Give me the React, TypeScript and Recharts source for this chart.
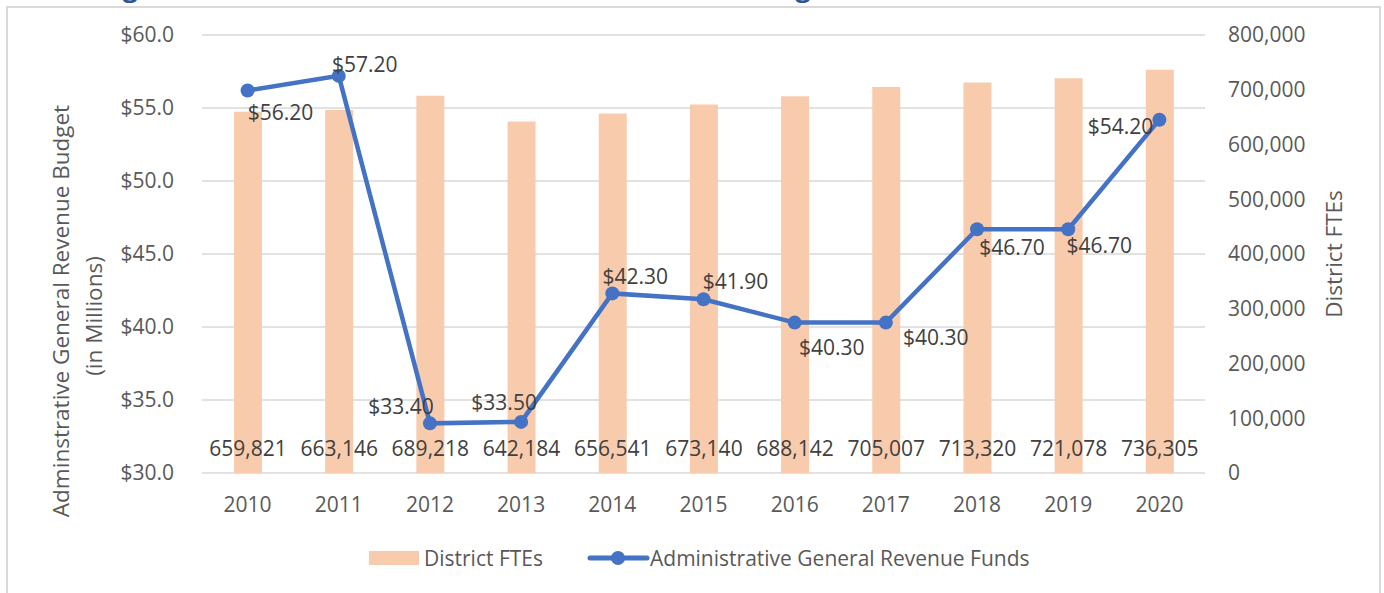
import React from 'react';
import { ComposedChart, Bar, Line, XAxis, YAxis, CartesianGrid, Legend, LabelList } from 'recharts';

const years = ['2010', '2011', '2012', '2013', '2014', '2015', '2016', '2017', '2018', '2019', '2020'];
const districtFTEs = [659821, 663146, 689218, 642184, 656541, 673140, 688142, 705007, 713320, 721078, 736305];
const adminFunds = [56.2, 57.2, 33.4, 33.5, 42.3, 41.9, 40.3, 40.3, 46.7, 46.7, 54.2];
const leftTicks = [30, 35, 40, 45, 50, 55, 60];
const rightTicks = [0, 100000, 200000, 300000, 400000, 500000, 600000, 700000, 800000];

const TITLE = 'Figure 1: General Revenue Funds Administrative Budget and District FTEs, Fiscal Years 2010-2020';
const BAR_NAME = 'District FTEs';
const LINE_NAME = 'Administrative General Revenue Funds';

// label placement offsets (dx, dy) relative to each line point
const LINE_LABEL_OFFSETS: [number, number][] = [
  [33, 22], [26, -12], [-29, -17], [-17, -20], [23, -17], [32, -18],
  [37, 24], [50, 14], [35, 18], [31, 16], [-39, 6],
];

const data = years.map((y, i) => ({ year: y, fte: districtFTEs[i], funds: adminFunds[i] }));

const FONT = '"Open Sans", sans-serif';
const TICK_COLOR = '#595959';
const LABEL_COLOR = '#404040';
const BAR_COLOR = '#F8CBAD';
const LINE_COLOR = '#4472C4';

const BarValueLabel = (props: any) => {
  const { x, y, width, height, value } = props;
  return (
    <text x={x + width / 2} y={y + height - 25} textAnchor="middle" dominantBaseline="central"
      fontSize={21} fontFamily={FONT} fill={LABEL_COLOR}>
      {Number(value).toLocaleString('en-US')}
    </text>
  );
};

const LineValueLabel = (props: any) => {
  const { x, y, value, index } = props;
  const off = LINE_LABEL_OFFSETS[index] || [0, -15];
  return (
    <text x={x + off[0]} y={y + off[1]} textAnchor="middle" dominantBaseline="central"
      fontSize={21} fontFamily={FONT} fill={LABEL_COLOR}>
      {`$${Number(value).toFixed(2)}`}
    </text>
  );
};

const LeftAxisLabel = () => (
  <g>
    <text x={60} y={311} transform="rotate(-90 60 311)" textAnchor="middle" dominantBaseline="central"
      fontSize={22.5} fontFamily={FONT} fill={TICK_COLOR}>Adminstrative General Revenue Budget</text>
    <text x={93} y={316} transform="rotate(-90 93 316)" textAnchor="middle" dominantBaseline="central"
      fontSize={22.5} fontFamily={FONT} fill={TICK_COLOR}>(in Millions)</text>
  </g>
);

const RightAxisLabel = () => (
  <text x={1333} y={254} transform="rotate(-90 1333 254)" textAnchor="middle" dominantBaseline="central"
    fontSize={22.5} fontFamily={FONT} fill={TICK_COLOR}>District FTEs</text>
);

const LegendContent = () => (
  <svg width={1384} height={30} style={{ display: 'block' }}>
    <rect x={369} y={8} width={50} height={14} fill={BAR_COLOR} />
    <text x={424} y={15} dominantBaseline="central" fontSize={21} fontFamily={FONT} fill={TICK_COLOR}>{BAR_NAME}</text>
    <line x1={590} y1={15} x2={647} y2={15} stroke={LINE_COLOR} strokeWidth={5} strokeLinecap="round" />
    <circle cx={618} cy={15} r={7} fill={LINE_COLOR} />
    <text x={650} y={15} dominantBaseline="central" fontSize={21} fontFamily={FONT} fill={TICK_COLOR}>{LINE_NAME}</text>
  </svg>
);

export default function App() {
  return (
    <div style={{ position: 'absolute', left: 0, top: 0, width: 1384, height: 593, overflow: 'hidden', background: '#fff', fontFamily: FONT }}>
      <svg width={1384} height={12} style={{ position: 'absolute', left: 0, top: 0 }}>
        <text x={100} y={-3} fontSize={26} fontWeight="bold" fontFamily={FONT} fill="#2F5597"
          textLength={1270} lengthAdjust="spacingAndGlyphs">{TITLE}</text>
      </svg>
      <div style={{ position: 'absolute', left: 6, top: 6, width: 1375, height: 620, border: '2px solid #d9d9d9', boxSizing: 'border-box' }} />
      <div style={{ position: 'absolute', left: 0, top: 0 }}>
        <ComposedChart width={1384} height={593} data={data} margin={{ top: 35, right: 0, bottom: 20, left: 0 }} barSize={28}>
          <CartesianGrid yAxisId="left" vertical={false} stroke="#d9d9d9" strokeWidth={1.5} />
          <XAxis dataKey="year" height={70} axisLine={false} tickLine={false} tickSize={0} tickMargin={24}
            tick={{ fontSize: 21, fontFamily: FONT, fill: TICK_COLOR }} interval={0} />
          <YAxis yAxisId="left" orientation="left" width={202} domain={[30, 60]} ticks={leftTicks}
            axisLine={false} tickLine={false} tickSize={0} tickMargin={28} interval={0}
            tickFormatter={(v: number) => `$${v.toFixed(1)}`}
            tick={{ fontSize: 21, fontFamily: FONT, fill: TICK_COLOR }}
            label={<LeftAxisLabel />} />
          <YAxis yAxisId="right" orientation="right" width={179} domain={[0, 800000]} ticks={rightTicks}
            axisLine={false} tickLine={false} tickSize={0} tickMargin={23} interval={0}
            tickFormatter={(v: number) => v.toLocaleString('en-US')}
            tick={{ fontSize: 21, fontFamily: FONT, fill: TICK_COLOR, textAnchor: 'start' }}
            label={<RightAxisLabel />} />
          <Legend verticalAlign="bottom" height={30} content={<LegendContent />} wrapperStyle={{ left: 0, width: 1384 }} />
          <Bar yAxisId="right" dataKey="fte" name={BAR_NAME} fill={BAR_COLOR} isAnimationActive={false}>
            <LabelList dataKey="fte" content={<BarValueLabel />} />
          </Bar>
          <Line yAxisId="left" dataKey="funds" name={LINE_NAME} stroke={LINE_COLOR} strokeWidth={4.5}
            dot={{ r: 7, fill: LINE_COLOR, stroke: 'none' }} activeDot={false} isAnimationActive={false}>
            <LabelList dataKey="funds" content={<LineValueLabel />} />
          </Line>
        </ComposedChart>
      </div>
    </div>
  );
}
